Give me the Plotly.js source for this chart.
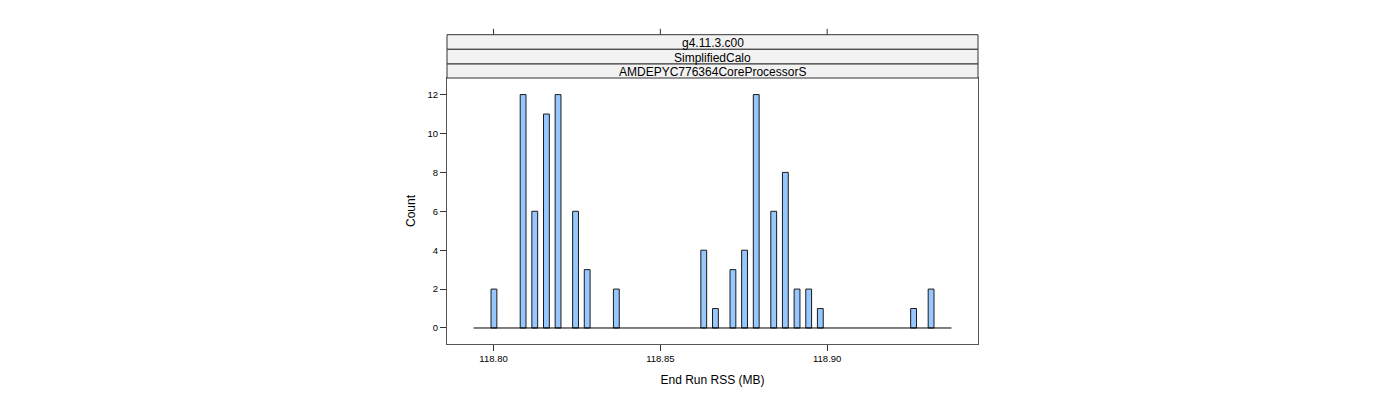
<!DOCTYPE html>
<html>
<head>
<meta charset="utf-8">
<script src="https://cdn.plot.ly/plotly-3.0.1.min.js"></script>
<style>
  html, body { margin: 0; padding: 0; background: #ffffff; }
  #chart { width: 1400px; height: 400px; }
</style>
</head>
<body>
<div id="chart"></div>
<script>
// ---- data ----
const binCenters = [118.80012, 118.80886, 118.81235, 118.81585, 118.81934, 118.82458, 118.82807,
                    118.83681, 118.86301, 118.86651, 118.87175, 118.87524, 118.87874, 118.88398,
                    118.88747, 118.89097, 118.89446, 118.89795, 118.92590, 118.93115];
const counts = [2, 12, 6, 11, 12, 6, 3, 2, 4, 1, 3, 4, 12, 6, 8, 2, 2, 1, 1, 2];
const binWidth = 0.001747;
const histRange = [118.79401, 118.93726];
const xTicks = [118.80, 118.85, 118.90];
const xTickLabels = ['118.80', '118.85', '118.90'];
const yTicks = [0, 2, 4, 6, 8, 10, 12];
const stripLabels = ['g4.11.3.c00', 'SimplifiedCalo', 'AMDEPYC776364CoreProcessorS'];
const xTitle = 'End Run RSS (MB)';
const yTitle = 'Count';

// ---- layout helpers ----
const FONT = '"Liberation Sans", Arial, sans-serif';
const xRange = [118.78605, 118.94521];
const yRange = [-0.823, 12.853];
// strip boundaries (paper coords, top to bottom)
const stripEdges = [1.1628, 1.1079, 1.0526, 1.0];
const topTickY = [1.1628, 1.1850];

const traces = [
  {
    type: 'scatter', mode: 'lines',
    x: histRange, y: [0, 0],
    line: { color: '#000000', width: 1 },
    hoverinfo: 'skip', showlegend: false
  },
  {
    type: 'bar',
    x: binCenters, y: counts,
    width: binCenters.map(() => binWidth),
    marker: { color: '#96C8FF', line: { color: '#1a1a1a', width: 1 } },
    showlegend: false
  }
];

const shapes = [];
const annotations = [];
for (let i = 0; i < stripLabels.length; i++) {
  shapes.push({
    type: 'rect', xref: 'paper', yref: 'paper',
    x0: 0, x1: 1, y0: stripEdges[i + 1], y1: stripEdges[i],
    fillcolor: '#F2F2F2', line: { color: '#333333', width: 1 }, layer: 'above'
  });
  annotations.push({
    xref: 'paper', yref: 'paper', x: 0.5, y: (stripEdges[i] + stripEdges[i + 1]) / 2,
    yshift: -1,
    text: stripLabels[i], showarrow: false,
    font: { family: FONT, size: 12, color: '#000000' },
    xanchor: 'center', yanchor: 'middle'
  });
}
// top ticks above the strips
xTicks.forEach(t => {
  shapes.push({
    type: 'line', xref: 'x', yref: 'paper',
    x0: t, x1: t, y0: topTickY[0], y1: topTickY[1],
    line: { color: '#333333', width: 1 }
  });
});

const layout = {
  width: 1400, height: 400,
  margin: { l: 447, r: 422, t: 78, b: 56 },
  paper_bgcolor: '#ffffff', plot_bgcolor: '#ffffff',
  font: { family: FONT, color: '#000000' },
  showlegend: false,
  bargap: 0,
  xaxis: {
    range: xRange,
    tickvals: xTicks, ticktext: xTickLabels,
    ticks: 'outside', ticklen: 6, tickcolor: '#333333', tickwidth: 1,
    tickfont: { family: FONT, size: 9.5, color: '#000000' },
    showgrid: false, zeroline: false,
    showline: true, mirror: true, linecolor: '#555555', linewidth: 1,
    title: { text: xTitle, font: { family: FONT, size: 12, color: '#000000' }, standoff: 12 }
  },
  yaxis: {
    range: yRange,
    tickvals: yTicks,
    ticks: 'outside', ticklen: 6, tickcolor: '#333333', tickwidth: 1,
    tickfont: { family: FONT, size: 9.5, color: '#000000' },
    showgrid: false, zeroline: false,
    showline: true, mirror: true, linecolor: '#555555', linewidth: 1,
    title: { text: yTitle, font: { family: FONT, size: 12, color: '#000000' }, standoff: 9 }
  },
  yaxis2: {
    range: yRange, overlaying: 'y', side: 'right',
    tickvals: yTicks, showticklabels: false,
    ticks: 'outside', ticklen: 6, tickcolor: '#333333', tickwidth: 1,
    showgrid: false, zeroline: false, showline: false
  },
  shapes: shapes,
  annotations: annotations
};

Plotly.newPlot('chart', traces, layout, { displayModeBar: false, staticPlot: true });
</script>
</body>
</html>
